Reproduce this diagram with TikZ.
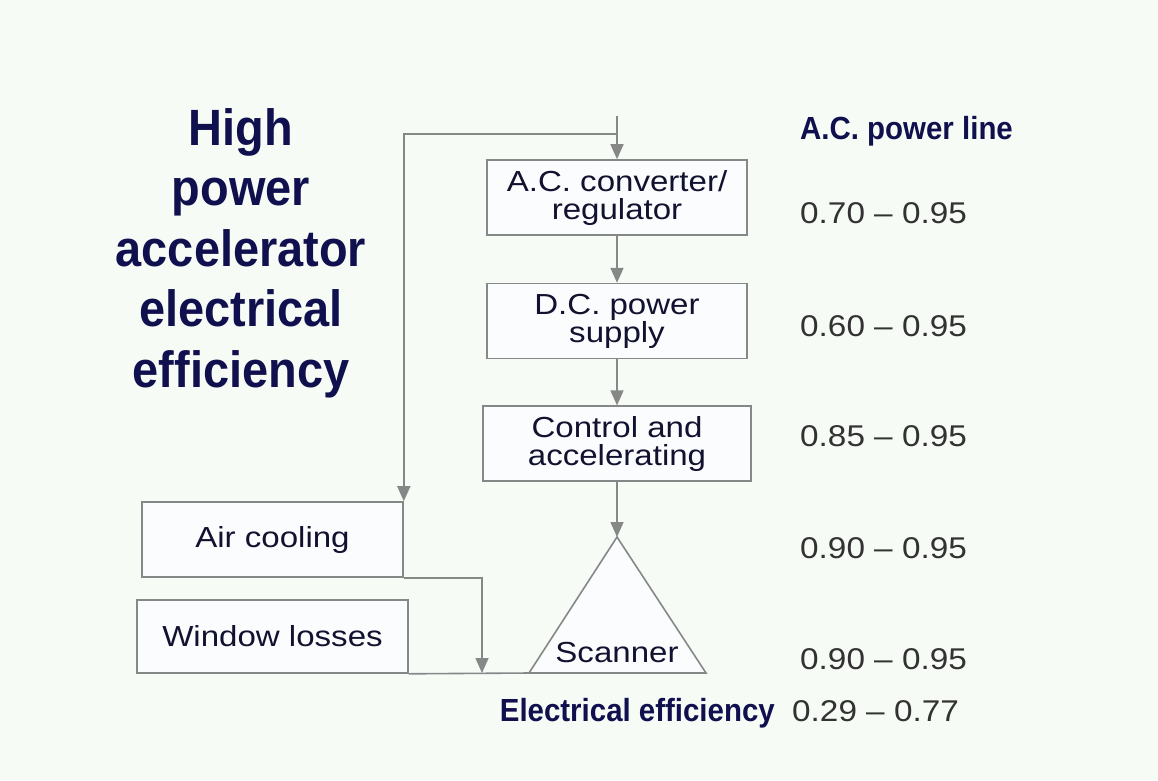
\documentclass[tikz,border=0pt]{standalone}
\usepackage{fontspec}
\setmainfont{Liberation Sans}
\newfontfamily\boxfont[FakeStretch=1.14]{Liberation Sans}
\newfontfamily\ratefont[FakeStretch=1.11]{Liberation Sans}
\newfontfamily\headfont[FakeStretch=0.92]{Liberation Sans}
\usetikzlibrary{arrows.meta,positioning}
\definecolor{paper}{RGB}{247,251,246}
\definecolor{boxfill}{RGB}{250,252,253}
\definecolor{wire}{RGB}{134,136,136}
\definecolor{ink}{RGB}{18,18,48}
\definecolor{navy}{RGB}{16,16,78}
\definecolor{graytext}{RGB}{50,50,50}

\begin{document}
\begin{tikzpicture}[
  x=1pt, y=-1pt,
  box/.style={rectangle, draw=wire, fill=boxfill, line width=1.6pt, minimum width=260pt, minimum height=75pt, inner sep=0pt, align=center, text=ink, font=\boxfont\fontsize{29}{28}\selectfont},
  flow/.style={draw=wire, line width=1.6pt},
  rate/.style={inner sep=0pt, text=graytext, font=\ratefont\fontsize{30}{30}\selectfont},
  head/.style={inner sep=0pt, text=navy, font=\headfont\bfseries\fontsize{32}{32}\selectfont},
  title/.style={inner sep=0pt, align=center, text=navy, font=\headfont\bfseries\fontsize{51}{60.5}\selectfont},
  >={Triangle[length=15pt,width=13pt]}
]

  % Background
  \fill[paper] (0,0) rectangle (1158,780);

  % Title
  \node[title, anchor=north] (heading) at (241,108) {High\\power\\accelerator\\electrical\\efficiency};

  % Main chain
  \node[box] (acbox) at (617,197.5) {A.C. converter/\\regulator};
  \node[box, below=47pt of acbox] (dcbox) {D.C. power\\supply};
  \node[box, below=46pt of dcbox, minimum width=268pt] (ctrlbox) {Control and\\accelerating};

  % Scanner
  \coordinate (apex) at (617,537);
  \coordinate (baseL) at (529,673);
  \coordinate (baseR) at (706,673);
  \draw[flow, fill=boxfill] (apex) -- (baseR) -- (baseL) -- cycle;
  \node[box, draw=none, fill=none, minimum width=0pt, minimum height=0pt, anchor=base] (scanner) at (617,662) {Scanner};

  % Losses
  \node[box, minimum width=261pt] (aircool) at (272.5,539.5) {Air cooling};
  \node[box, minimum width=271pt, minimum height=73pt] (winloss) at (272.5,636.5) {Window losses};

  % Power flow
  \coordinate (feed) at (617,116);
  \coordinate (tap) at (617,134);
  \coordinate (merge) at (482,673);
  \draw[flow, ->] (feed) -- (acbox);
  \draw[flow, ->] (tap) -| (aircool.north east);
  \draw[flow, ->] (acbox) -- (dcbox);
  \draw[flow, ->] (dcbox) -- (ctrlbox);
  \draw[flow, ->] (ctrlbox) -- (apex);
  \draw[flow, ->] (aircool.south east) -| (merge);
  \draw[flow] (winloss.south east) -- (baseL);

  % Efficiencies
  \node[head, anchor=base west] (acline) at (800,139) {A.C. power line};
  \node[rate, anchor=base west] (r1) at (800,223) {0.70 – 0.95};
  \node[rate, anchor=base west] (r2) at (800,336) {0.60 – 0.95};
  \node[rate, anchor=base west] (r3) at (800,446) {0.85 – 0.95};
  \node[rate, anchor=base west] (r4) at (800,558) {0.90 – 0.95};
  \node[rate, anchor=base west] (r5) at (800,669) {0.90 – 0.95};
  \node[head, anchor=base east] (effline) at (775,721) {Electrical efficiency};
  \node[rate, anchor=base west] (rtotal) at (792,721) {0.29 – 0.77};

\end{tikzpicture}
\end{document}
